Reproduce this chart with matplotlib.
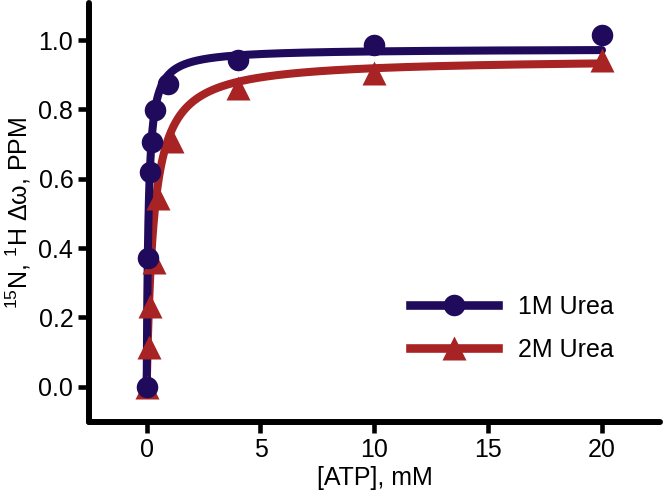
import numpy as np
import matplotlib
matplotlib.use("Agg")
import matplotlib.pyplot as plt

plt.rcParams['font.family'] = ['Liberation Sans', 'DejaVu Sans']
plt.rcParams['mathtext.fontset'] = 'custom'
plt.rcParams['mathtext.rm'] = 'Liberation Sans'
plt.rcParams['mathtext.default'] = 'regular'

# data
atp_1m = [0, 0.05, 0.15, 0.22, 0.38, 0.95, 4, 10, 20]
shift_1m = [0.0, 0.37, 0.62, 0.706, 0.798, 0.872, 0.942, 0.986, 1.016]
atp_2m = [0, 0.12, 0.15, 0.32, 0.48, 1.1, 4, 10, 20]
shift_2m = [0.0, 0.115, 0.232, 0.36, 0.545, 0.71, 0.862, 0.904, 0.942]

# one-site binding fits: Bmax, Kd
fit_1m = (0.975, 0.08)
fit_2m = (0.947, 0.307)

blue = '#1f0a5c'
red = '#a82323'
fs = 18

fig = plt.figure(figsize=(6.64, 4.96), dpi=100)
ax = fig.add_axes([0.1345, 0.1498, 0.994 - 0.1345, 0.9933 - 0.1498])

xs = np.linspace(0, 20, 800)
for (bmax, kd), x, y, c, m, ms in [
        (fit_2m, atp_2m, shift_2m, red, '^', 17),
        (fit_1m, atp_1m, shift_1m, blue, 'o', 15.5)]:
    ax.plot(xs, bmax * xs / (kd + xs), color=c, lw=5.8, solid_capstyle='round', zorder=2)
    ax.plot(x, y, m, color=c, ms=ms, mec='none', zorder=3)

# legend proxies
h1, = ax.plot([], [], '-o', color=blue, lw=6.2, ms=15.5, mec='none')
h2, = ax.plot([], [], '-^', color=red, lw=6.2, ms=17, mec='none')
ax.legend([h1, h2], ['1M Urea', '2M Urea'], loc='center left',
          bbox_to_anchor=(0.562, 0.223), frameon=False, fontsize=fs,
          borderaxespad=0, borderpad=0,
          handlelength=3.5, handletextpad=0.8, labelspacing=0.75, numpoints=1)

ax.set_xlim(-2.52, 22.55)
ax.set_ylim(-0.101, 1.106)
ax.set_xticks([0, 5, 10, 15, 20])
ax.set_yticks([0.0, 0.2, 0.4, 0.6, 0.8, 1.0])
ax.set_yticklabels(['0.0', '0.2', '0.4', '0.6', '0.8', '1.0'])

for s in ['top', 'right']:
    ax.spines[s].set_visible(False)
for s in ['left', 'bottom']:
    ax.spines[s].set_linewidth(4.3)
    ax.spines[s].set_capstyle('round')
ax.tick_params(width=3.3, length=8, labelsize=fs, pad=3.5, color='black')

ax.set_xlabel('[ATP], mM', fontsize=fs, labelpad=3)
ax.set_ylabel(r'$^{15}$N, $^{1}$H $\Delta\omega$, PPM', fontsize=fs, labelpad=4)

fig.savefig('out.png', dpi=100)
